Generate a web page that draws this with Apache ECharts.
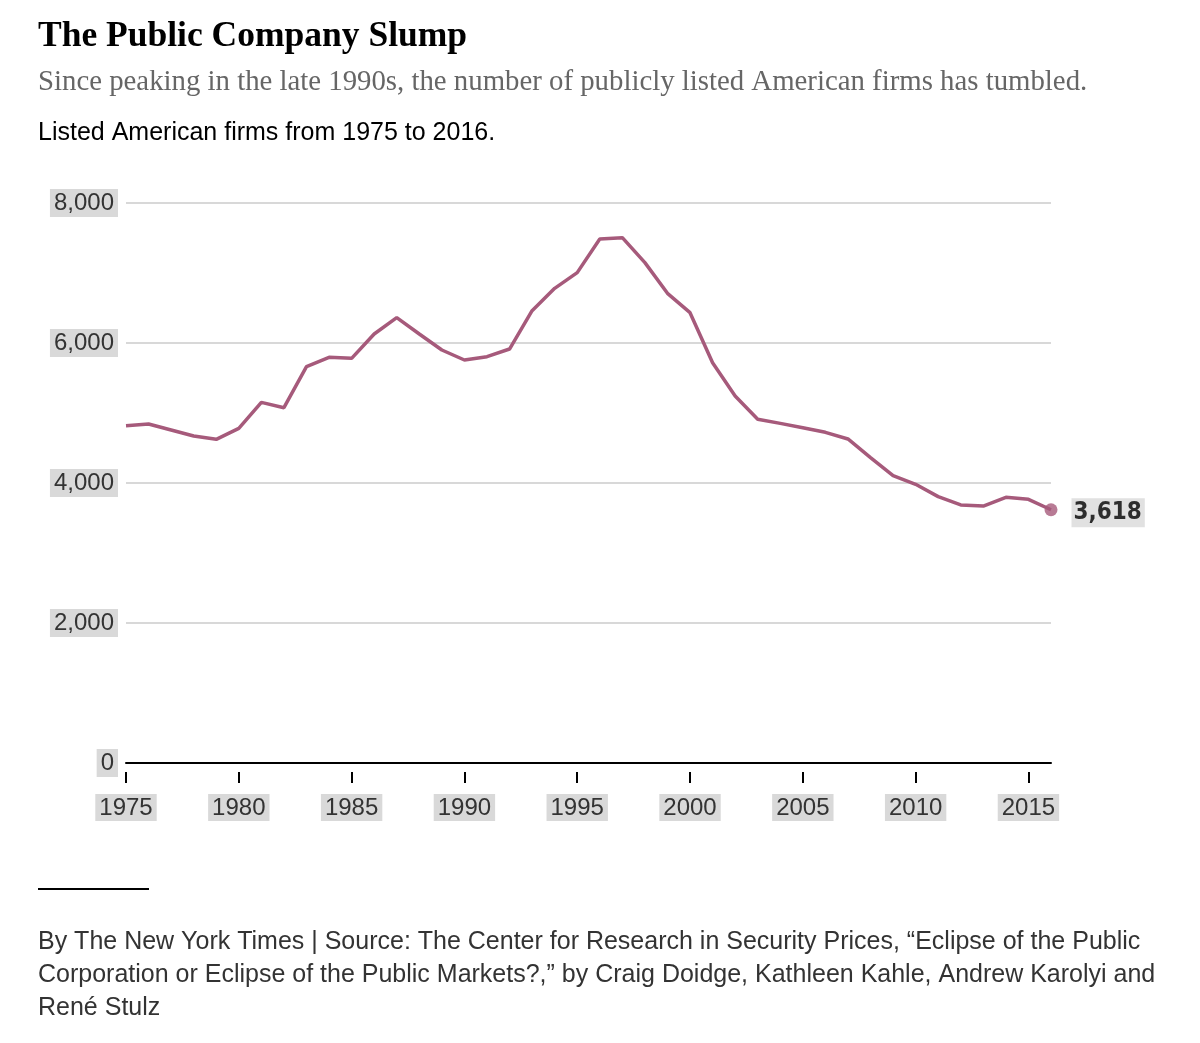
<!DOCTYPE html>
<html>
<head>
<meta charset="utf-8">
<script src="https://cdn.jsdelivr.net/npm/echarts@6/dist/echarts.min.js"></script>
<style>
html,body{margin:0;padding:0;background:#fff;}
#chart{width:1200px;height:1043px;}
</style>
</head>
<body>
<div id="chart"></div>
<script>
const years = [1975,1976,1977,1978,1979,1980,1981,1982,1983,1984,1985,1986,1987,1988,1989,1990,1991,1992,1993,1994,1995,1996,1997,1998,1999,2000,2001,2002,2003,2004,2005,2006,2007,2008,2009,2010,2011,2012,2013,2014,2015,2016];
const firms = [4819,4843,4757,4671,4624,4781,5152,5076,5662,5795,5781,6129,6362,6129,5900,5757,5805,5914,6462,6781,7005,7486,7505,7148,6710,6433,5719,5243,4910,4852,4790,4724,4629,4362,4105,3981,3805,3686,3671,3795,3767,3618];
const yTicks = [0,2000,4000,6000,8000];

const lineColor = '#a65a7b';
const labelBg = '#d9d9d9';
const yearLabels = years.map(String);
const lastIdx = years.length - 1;

const chart = echarts.init(document.getElementById('chart'));
chart.setOption({
  animation: false,
  backgroundColor: '#fff',
  title: [
    {text: 'The Public Company Slump', left: 33, top: 14,
     textStyle: {fontFamily: 'Liberation Serif', fontWeight: 'bold', fontSize: 35.5, color: '#000'}},
    {text: 'Since peaking in the late 1990s, the number of publicly listed American firms has tumbled.', left: 33, top: 63,
     textStyle: {fontFamily: 'Liberation Serif', fontWeight: 'normal', fontSize: 28.8, color: '#666'}},
    {text: 'Listed American firms from 1975 to 2016.', left: 33, top: 116,
     textStyle: {fontFamily: 'Liberation Sans', fontWeight: 'normal', fontSize: 25, color: '#000'}},
    {text: 'By The New York Times | Source: The Center for Research in Security Prices, \u201cEclipse of the Public\nCorporation or Eclipse of the Public Markets?,\u201d by Craig Doidge, Kathleen Kahle, Andrew Karolyi and\nRen\u00e9 Stulz', left: 33, top: 921,
     textStyle: {fontFamily: 'Liberation Sans', fontWeight: 'normal', fontSize: 25, lineHeight: 33, color: '#333'}}
  ],
  graphic: [
    {type: 'line', shape: {x1: 38, y1: 889, x2: 149, y2: 889}, style: {stroke: '#000', lineWidth: 2}}
  ],
  grid: {left: 126, right: 149, top: 203, bottom: 280, containLabel: false},
  xAxis: [
    {type: 'category', data: yearLabels, boundaryGap: false,
     axisLine: {show: true, lineStyle: {color: '#000', width: 2}},
     axisTick: {show: false}, axisLabel: {show: false}, splitLine: {show: false}},
    {type: 'category', data: yearLabels, boundaryGap: false, position: 'bottom', offset: 9,
     axisLine: {show: false},
     axisTick: {show: true, interval: 4, length: 11, lineStyle: {color: '#000', width: 2}},
     axisLabel: {show: true, interval: 4, margin: 22, fontFamily: 'Liberation Sans', fontSize: 24, color: '#333',
       backgroundColor: labelBg, padding: [2, 4, 1, 4]},
     splitLine: {show: false}}
  ],
  yAxis: {
    type: 'value', min: yTicks[0], max: yTicks[yTicks.length - 1], interval: 2000,
    axisLine: {show: false}, axisTick: {show: false},
    splitLine: {show: true, lineStyle: {color: '#d8d8d8', width: 2}},
    axisLabel: {margin: 8, fontFamily: 'Liberation Sans', fontSize: 24, color: '#333',
      backgroundColor: labelBg, padding: [4, 4, 0, 4],
      formatter: v => v.toLocaleString('en-US')}
  },
  series: [
    {type: 'line', data: firms, xAxisIndex: 0, symbol: 'none', smooth: false,
     lineStyle: {color: lineColor, width: 3.5}},
    {type: 'scatter', xAxisIndex: 0, data: [[yearLabels[lastIdx], firms[lastIdx]]], symbol: 'circle', symbolSize: 13,
     itemStyle: {color: lineColor},
     label: {show: true, position: 'right', distance: 14, offset: [0, 3], formatter: p => p.value[1].toLocaleString('en-US'),
       fontFamily: 'DejaVu Sans Condensed, DejaVu Sans', fontWeight: 'bold', fontSize: 24, color: '#000',
       backgroundColor: labelBg, padding: [3, 3, 2, 2]}}
  ]
});
</script>
</body>
</html>
